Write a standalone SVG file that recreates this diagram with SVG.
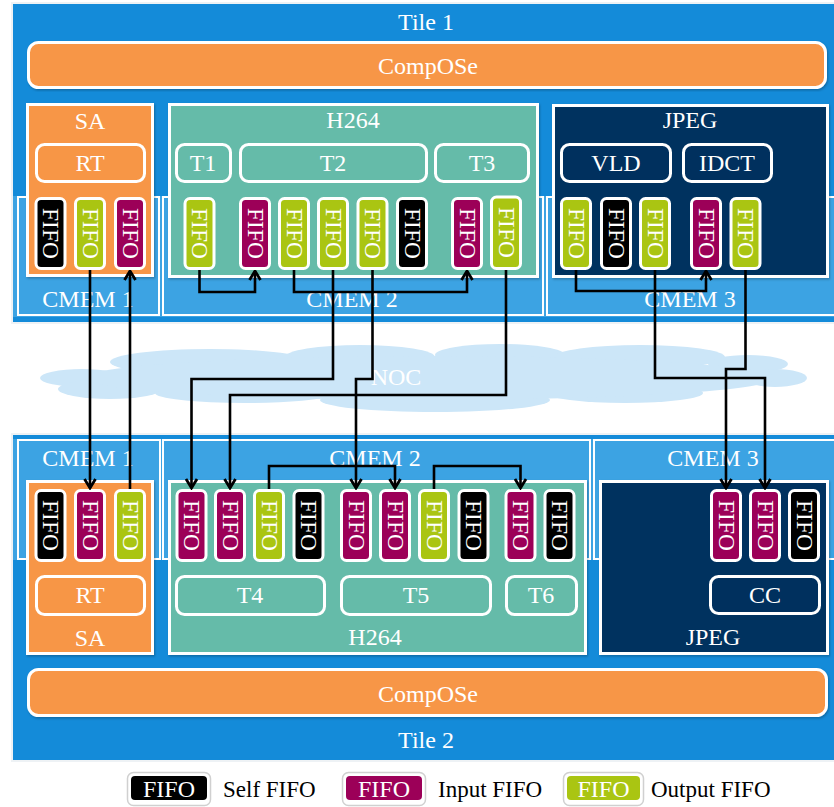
<svg xmlns="http://www.w3.org/2000/svg" width="834" height="807" viewBox="0 0 834 807">
<defs>
<style>
.tile{fill:#148BD9;stroke:#EEF2F5;stroke-width:2}
.band{fill:#3CA3E3}
.cmem{fill:#3CA3E3;stroke:#FFFFFF;stroke-width:2}
.box{stroke:#FFFFFF;stroke-width:3}
.sa{fill:#F79646}
.h264{fill:#65BBA9}
.jpeg{fill:#00305E}
.task{stroke:#FFFFFF;stroke-width:3}
.ff{stroke:#FFFFFF;stroke-width:3}
.self{fill:#000000}
.in{fill:#9C0058}
.out{fill:#AAC512}
.lbl{font-family:"Liberation Serif","Times New Roman",serif;font-size:24px;fill:#FFFFFF;text-anchor:middle}
.ft{font-family:"Liberation Serif","Times New Roman",serif;font-size:23.5px;fill:#FFFFFF;text-anchor:middle}
.leg{font-family:"Liberation Serif","Times New Roman",serif;font-size:23px;fill:#000000}
.conn{fill:none;stroke:#000000;stroke-width:2.6;marker-end:url(#ah)}
.cl-s{fill:none;stroke:#FFFFFF;stroke-width:3}
.cl-f{fill:#CCE6F8}
</style>
<marker id="ah" viewBox="0 0 12 14" refX="10.5" refY="7" markerWidth="12" markerHeight="14" markerUnits="userSpaceOnUse" orient="auto">
<path d="M1.5,1.5 L10.5,7 L1.5,12.5" fill="none" stroke="#000000" stroke-width="2.8"/>
</marker>
<filter id="sh" x="-5%" y="-5%" width="110%" height="115%">
<feDropShadow dx="1" dy="1.5" stdDeviation="1" flood-color="#000" flood-opacity="0.25"/>
</filter>
</defs>

<!-- TILE 1 -->
<g id="tile1">
<rect class="tile" x="12" y="3" width="830" height="320"/>
<text class="lbl" x="426" y="30">Tile 1</text>
</g>
<g id="compose1">
<rect class="box sa" x="28.5" y="42.5" width="797" height="45" rx="10" filter="url(#sh)"/>
<text class="lbl" x="428" y="74">CompOSe</text>
</g>
<g id="cmem-top">
<rect class="band" x="13" y="196" width="821" height="121"/>
<g id="cmem1-top"><rect class="cmem" x="18" y="197" width="141" height="118"/><text class="lbl" x="88" y="307">CMEM 1</text></g>
<g id="cmem2-top"><rect class="cmem" x="163" y="197" width="380" height="118"/><text class="lbl" x="352" y="307">CMEM 2</text></g>
<g id="cmem3-top"><rect class="cmem" x="547" y="197" width="290" height="118"/><text class="lbl" x="690" y="307">CMEM 3</text></g>
</g>

<g id="sa-top">
<rect class="box sa" x="27.5" y="104.5" width="125" height="171" filter="url(#sh)"/>
<text class="lbl" x="90" y="129">SA</text>
<g id="rt-top"><rect class="task sa" x="36.5" y="144.5" width="108" height="37" rx="8"/><text class="lbl" x="90" y="171">RT</text></g>
</g>
<g id="h264-top">
<rect class="box h264" x="169.5" y="104.5" width="368" height="172" filter="url(#sh)"/>
<text class="lbl" x="353" y="128">H264</text>
<g id="t1"><rect class="task h264" x="176.5" y="144.5" width="54" height="37" rx="8"/><text class="lbl" x="203" y="171">T1</text></g>
<g id="t2"><rect class="task h264" x="240.5" y="144.5" width="186" height="37" rx="8"/><text class="lbl" x="333" y="171">T2</text></g>
<g id="t3"><rect class="task h264" x="435.5" y="144.5" width="93" height="37" rx="8"/><text class="lbl" x="482" y="171">T3</text></g>
</g>
<g id="jpeg-top">
<rect class="box jpeg" x="553.5" y="105.5" width="274" height="171" filter="url(#sh)"/>
<text class="lbl" x="690" y="128">JPEG</text>
<g id="vld"><rect class="task jpeg" x="561.5" y="144.5" width="109" height="37" rx="8"/><text class="lbl" x="616" y="171">VLD</text></g>
<g id="idct"><rect class="task jpeg" x="683.5" y="144.5" width="88" height="37" rx="8"/><text class="lbl" x="727" y="171">IDCT</text></g>
</g>

<!-- top FIFOs -->
<g id="f-t-sa1"><rect class="ff self" x="36" y="198.5" width="29" height="70" rx="5"/><text class="ft" transform="translate(43,233.5) rotate(90)">FIFO</text></g>
<g id="f-t-sa2"><rect class="ff out" x="75.5" y="198.5" width="29" height="70" rx="5"/><text class="ft" transform="translate(82.5,233.5) rotate(90)">FIFO</text></g>
<g id="f-t-sa3"><rect class="ff in" x="115.5" y="198.5" width="29" height="70" rx="5"/><text class="ft" transform="translate(122.5,233.5) rotate(90)">FIFO</text></g>

<g id="f-t-h1"><rect class="ff out" x="185" y="198.5" width="29" height="70" rx="5"/><text class="ft" transform="translate(192,233.5) rotate(90)">FIFO</text></g>
<g id="f-t-h2"><rect class="ff in" x="240.5" y="198.5" width="29" height="70" rx="5"/><text class="ft" transform="translate(247.5,233.5) rotate(90)">FIFO</text></g>
<g id="f-t-h3"><rect class="ff out" x="279.5" y="198.5" width="29" height="70" rx="5"/><text class="ft" transform="translate(286.5,233.5) rotate(90)">FIFO</text></g>
<g id="f-t-h4"><rect class="ff out" x="318.5" y="198.5" width="29" height="70" rx="5"/><text class="ft" transform="translate(325.5,233.5) rotate(90)">FIFO</text></g>
<g id="f-t-h5"><rect class="ff out" x="358" y="198.5" width="29" height="70" rx="5"/><text class="ft" transform="translate(365,233.5) rotate(90)">FIFO</text></g>
<g id="f-t-h6"><rect class="ff self" x="397.5" y="198.5" width="29" height="70" rx="5"/><text class="ft" transform="translate(404.5,233.5) rotate(90)">FIFO</text></g>
<g id="f-t-h7"><rect class="ff in" x="452.5" y="198.5" width="29" height="70" rx="5"/><text class="ft" transform="translate(459.5,233.5) rotate(90)">FIFO</text></g>
<g id="f-t-h8"><rect class="ff out" x="491.5" y="197" width="29" height="71.5" rx="5"/><text class="ft" transform="translate(498.5,232.5) rotate(90)">FIFO</text></g>

<g id="f-t-j1"><rect class="ff out" x="561.5" y="198.5" width="29" height="70" rx="5"/><text class="ft" transform="translate(568.5,233.5) rotate(90)">FIFO</text></g>
<g id="f-t-j2"><rect class="ff self" x="601.5" y="198.5" width="29" height="70" rx="5"/><text class="ft" transform="translate(608.5,233.5) rotate(90)">FIFO</text></g>
<g id="f-t-j3"><rect class="ff out" x="640.5" y="198.5" width="29" height="70" rx="5"/><text class="ft" transform="translate(647.5,233.5) rotate(90)">FIFO</text></g>
<g id="f-t-j4"><rect class="ff in" x="691.5" y="198.5" width="29" height="70" rx="5"/><text class="ft" transform="translate(698.5,233.5) rotate(90)">FIFO</text></g>
<g id="f-t-j5"><rect class="ff out" x="731" y="198.5" width="29" height="70" rx="5"/><text class="ft" transform="translate(738,233.5) rotate(90)">FIFO</text></g>

<!-- NOC cloud -->
<g id="noc">
<g class="cl-s">
<ellipse cx="82" cy="378" rx="42" ry="9"/>
<ellipse cx="110" cy="389" rx="52" ry="10"/>
<ellipse cx="210" cy="362" rx="100" ry="13"/>
<ellipse cx="360" cy="357" rx="75" ry="12"/>
<ellipse cx="500" cy="355" rx="65" ry="11"/>
<ellipse cx="640" cy="357" rx="85" ry="12"/>
<ellipse cx="748" cy="364" rx="40" ry="9"/>
<ellipse cx="775" cy="378" rx="32" ry="9"/>
<ellipse cx="625" cy="393" rx="78" ry="10"/>
<ellipse cx="435" cy="400" rx="115" ry="12"/>
<ellipse cx="245" cy="393" rx="90" ry="10"/>
</g>
<g class="cl-f">
<ellipse cx="82" cy="378" rx="42" ry="9"/>
<ellipse cx="110" cy="389" rx="52" ry="10"/>
<ellipse cx="210" cy="362" rx="100" ry="13"/>
<ellipse cx="360" cy="357" rx="75" ry="12"/>
<ellipse cx="500" cy="355" rx="65" ry="11"/>
<ellipse cx="640" cy="357" rx="85" ry="12"/>
<ellipse cx="748" cy="364" rx="40" ry="9"/>
<ellipse cx="775" cy="378" rx="32" ry="9"/>
<ellipse cx="625" cy="393" rx="78" ry="10"/>
<ellipse cx="435" cy="400" rx="115" ry="12"/>
<ellipse cx="245" cy="393" rx="90" ry="10"/>
<ellipse cx="430" cy="378" rx="345" ry="22"/>
</g>
<text class="lbl" x="396" y="385">NOC</text>
</g>

<!-- TILE 2 -->
<g id="tile2">
<rect class="tile" x="12" y="434" width="830" height="327"/>
<text class="lbl" x="426" y="748">Tile 2</text>
</g>
<g id="cmem-bot">
<rect class="band" x="13" y="439" width="821" height="121"/>
<g id="cmem1-bot"><rect class="cmem" x="18" y="440" width="142" height="119"/><text class="lbl" x="88" y="466">CMEM 1</text></g>
<g id="cmem2-bot"><rect class="cmem" x="163" y="440" width="427" height="119"/><text class="lbl" x="375" y="466">CMEM 2</text></g>
<g id="cmem3-bot"><rect class="cmem" x="594" y="440" width="243" height="119"/><text class="lbl" x="713" y="466">CMEM 3</text></g>
</g>
<g id="compose2">
<rect class="box sa" x="28.5" y="669.5" width="798" height="46" rx="10" filter="url(#sh)"/>
<text class="lbl" x="428" y="702">CompOSe</text>
</g>

<g id="sa-bot">
<rect class="box sa" x="27.5" y="481.5" width="125" height="172" filter="url(#sh)"/>
<text class="lbl" x="90" y="646">SA</text>
<g id="rt-bot"><rect class="task sa" x="36.5" y="576.5" width="108" height="38" rx="8"/><text class="lbl" x="90" y="603">RT</text></g>
</g>
<g id="h264-bot">
<rect class="box h264" x="169.5" y="481.5" width="416" height="172" filter="url(#sh)"/>
<text class="lbl" x="375" y="645">H264</text>
<g id="t4"><rect class="task h264" x="176.5" y="576.5" width="148" height="38" rx="8"/><text class="lbl" x="250" y="603">T4</text></g>
<g id="t5"><rect class="task h264" x="341.5" y="576.5" width="149" height="38" rx="8"/><text class="lbl" x="416" y="603">T5</text></g>
<g id="t6"><rect class="task h264" x="506.5" y="576.5" width="70" height="38" rx="8"/><text class="lbl" x="541" y="603">T6</text></g>
</g>
<g id="jpeg-bot">
<rect class="box jpeg" x="600.5" y="481.5" width="227" height="172" filter="url(#sh)"/>
<text class="lbl" x="713" y="645">JPEG</text>
<g id="cc"><rect class="task jpeg" x="710.5" y="576.5" width="109" height="37" rx="8"/><text class="lbl" x="765" y="603">CC</text></g>
</g>

<!-- bottom FIFOs -->
<g id="f-b-sa1"><rect class="ff self" x="36" y="490.5" width="29" height="70" rx="5"/><text class="ft" transform="translate(43,525.5) rotate(90)">FIFO</text></g>
<g id="f-b-sa2"><rect class="ff in" x="75.5" y="490.5" width="29" height="70" rx="5"/><text class="ft" transform="translate(82.5,525.5) rotate(90)">FIFO</text></g>
<g id="f-b-sa3"><rect class="ff out" x="115.5" y="490.5" width="29" height="70" rx="5"/><text class="ft" transform="translate(122.5,525.5) rotate(90)">FIFO</text></g>

<g id="f-b-h1"><rect class="ff in" x="177" y="490.5" width="29" height="70" rx="5"/><text class="ft" transform="translate(184,525.5) rotate(90)">FIFO</text></g>
<g id="f-b-h2"><rect class="ff in" x="215.5" y="490.5" width="29" height="70" rx="5"/><text class="ft" transform="translate(222.5,525.5) rotate(90)">FIFO</text></g>
<g id="f-b-h3"><rect class="ff out" x="254.5" y="490.5" width="29" height="70" rx="5"/><text class="ft" transform="translate(261.5,525.5) rotate(90)">FIFO</text></g>
<g id="f-b-h4"><rect class="ff self" x="294" y="490.5" width="29" height="70" rx="5"/><text class="ft" transform="translate(301,525.5) rotate(90)">FIFO</text></g>
<g id="f-b-h5"><rect class="ff in" x="341.5" y="490.5" width="29" height="70" rx="5"/><text class="ft" transform="translate(348.5,525.5) rotate(90)">FIFO</text></g>
<g id="f-b-h6"><rect class="ff in" x="380.5" y="490.5" width="29" height="70" rx="5"/><text class="ft" transform="translate(387.5,525.5) rotate(90)">FIFO</text></g>
<g id="f-b-h7"><rect class="ff out" x="419.5" y="490.5" width="29" height="70" rx="5"/><text class="ft" transform="translate(426.5,525.5) rotate(90)">FIFO</text></g>
<g id="f-b-h8"><rect class="ff self" x="459" y="490.5" width="29" height="70" rx="5"/><text class="ft" transform="translate(466,525.5) rotate(90)">FIFO</text></g>
<g id="f-b-h9"><rect class="ff in" x="506" y="490.5" width="29" height="70" rx="5"/><text class="ft" transform="translate(513,525.5) rotate(90)">FIFO</text></g>
<g id="f-b-h10"><rect class="ff self" x="545" y="490.5" width="29" height="70" rx="5"/><text class="ft" transform="translate(552,525.5) rotate(90)">FIFO</text></g>

<g id="f-b-j1"><rect class="ff in" x="711.5" y="490.5" width="29" height="70" rx="5"/><text class="ft" transform="translate(718.5,525.5) rotate(90)">FIFO</text></g>
<g id="f-b-j2"><rect class="ff in" x="750.5" y="490.5" width="29" height="70" rx="5"/><text class="ft" transform="translate(757.5,525.5) rotate(90)">FIFO</text></g>
<g id="f-b-j3"><rect class="ff self" x="789.5" y="490.5" width="29" height="70" rx="5"/><text class="ft" transform="translate(796.5,525.5) rotate(90)">FIFO</text></g>

<!-- connectors -->
<g id="connectors">
<path class="conn" d="M90,270 V488"/>
<path class="conn" d="M130,489 V271"/>
<path class="conn" d="M199.5,270 V292 H255 V271"/>
<path class="conn" d="M294,270 V292 H467 V271"/>
<path class="conn" d="M333,270 V379 H191.5 V488"/>
<path class="conn" d="M372.5,270 V379 H356 V488"/>
<path class="conn" d="M506,270 V395 H230 V488"/>
<path class="conn" d="M576,270 V291 H706 V271"/>
<path class="conn" d="M655,270 V378 H765 V488"/>
<path class="conn" d="M745.5,270 V369 H726 V488"/>
<path class="conn" d="M269,489 V466 H395 V488"/>
<path class="conn" d="M434,489 V466 H520.5 V488"/>
</g>

<!-- legend -->
<g id="legend-self">
<rect x="127.5" y="772.5" width="83" height="33" rx="6" fill="#FFFFFF" stroke="#D0D0D0" stroke-width="1.5"/>
<rect class="self" x="131" y="776" width="76" height="24" rx="4"/>
<text class="lbl" x="169" y="797">FIFO</text>
<text class="leg" x="223" y="797">Self FIFO</text>
</g>
<g id="legend-in">
<rect x="342.5" y="772.5" width="83" height="33" rx="6" fill="#FFFFFF" stroke="#D0D0D0" stroke-width="1.5"/>
<rect class="in" x="346" y="776" width="76" height="24" rx="4"/>
<text class="lbl" x="384" y="797">FIFO</text>
<text class="leg" x="438" y="797">Input FIFO</text>
</g>
<g id="legend-out">
<rect x="563.5" y="772.5" width="80" height="33" rx="6" fill="#FFFFFF" stroke="#D0D0D0" stroke-width="1.5"/>
<rect class="out" x="567" y="776" width="73" height="24" rx="4"/>
<text class="lbl" x="603.5" y="797">FIFO</text>
<text class="leg" x="651" y="797">Output FIFO</text>
</g>
</svg>
